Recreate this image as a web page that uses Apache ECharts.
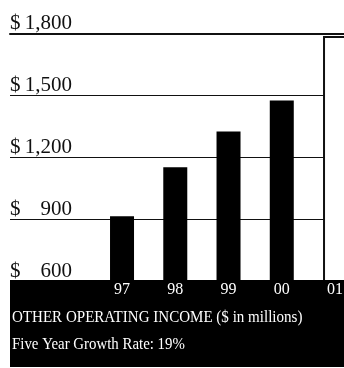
<!DOCTYPE html>
<html><head><meta charset="utf-8">
<script src="https://cdn.jsdelivr.net/npm/echarts@6/dist/echarts.min.js"></script>
<style>html,body{margin:0;padding:0;background:#fff}#c{width:344px;height:368px}</style>
</head><body><div id="c"></div>
<script>
var years = ['97', '98', '99', '00', '01'];
var income = [916, 1153, 1326, 1476, 1788];
var yTicks = [600, 900, 1200, 1500, 1800];
var titleText = 'OTHER OPERATING INCOME ($ in millions)';
var subText = 'Five Year Growth Rate: 19%';

var FONT = '"Liberation Serif", "DejaVu Serif", serif';
var chart = echarts.init(document.getElementById('c'), null, {renderer: 'canvas'});
var TOP = 33.5, BOTTOM = 368 - 281.5;
chart.setOption({
  animation: false,
  backgroundColor: '#fff',
  grid: [
    {left: 10, right: 0, top: TOP, bottom: BOTTOM, containLabel: false, outerBoundsMode: 'none'},
    {left: 95.4, width: 266.25, top: TOP, bottom: BOTTOM, containLabel: false, outerBoundsMode: 'none'}
  ],
  xAxis: [
    {gridIndex: 0, type: 'category', data: [''], position: 'top',
     axisLine: {show: true, lineStyle: {color: '#111', width: 2}}, axisTick: {show: false},
     axisLabel: {show: false}, splitLine: {show: false}},
    {gridIndex: 1, type: 'category', data: years, z: 20,
     axisLine: {show: false}, axisTick: {show: false},
     axisLabel: {color: '#fff', fontFamily: FONT, fontSize: 16, margin: 0, interval: 0}}
  ],
  yAxis: [
    {gridIndex: 0, type: 'value', min: yTicks[0], max: yTicks[yTicks.length - 1], interval: 300,
     axisLine: {show: false}, axisTick: {show: false},
     splitLine: {show: true, lineStyle: {color: '#111', width: 1}},
     axisLabel: {inside: true, margin: 0, align: 'left', verticalAlign: 'bottom',
       showMaxLabel: true, showMinLabel: true,
       formatter: function (v) { return '{d|$}{n|' + v.toLocaleString('en-US') + '}'; },
       rich: {
         d: {width: 13, align: 'left', fontFamily: FONT, fontSize: 21, color: '#111'},
         n: {width: 49, align: 'right', fontFamily: FONT, fontSize: 21, color: '#111'}
       }}},
    {gridIndex: 1, type: 'value', min: yTicks[0], max: yTicks[yTicks.length - 1], interval: 300,
     show: false, splitLine: {show: false}}
  ],
  series: [{
    type: 'bar', xAxisIndex: 1, yAxisIndex: 1, barWidth: 24, z: 2,
    data: income.map(function (v, i) {
      return i === income.length - 1
        ? {value: v, itemStyle: {color: '#fff', borderColor: '#111', borderWidth: 2}}
        : {value: v, itemStyle: {color: '#000'}};
    })
  }],
  graphic: [
    {type: 'rect', z: 10, shape: {x: 10, y: 280, width: 334, height: 87}, style: {fill: '#000'}},
    {type: 'text', z: 30, x: 12, y: 309, scaleX: 0.885, style: {text: titleText, fill: '#fff', font: '17px ' + FONT}},
    {type: 'text', z: 30, x: 12, y: 337, scaleX: 0.93, style: {text: subText, fill: '#fff', font: '16px ' + FONT}}
  ]
});
</script></body></html>
